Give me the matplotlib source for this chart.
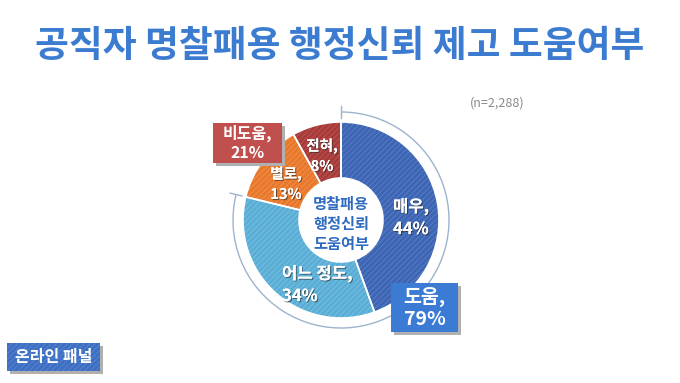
import matplotlib.pyplot as plt
import matplotlib.patches as mpatches
import matplotlib.patheffects as pe
import numpy as np

plt.rcParams['font.family'] = ['Noto Sans CJK KR', 'DejaVu Sans']
plt.rcParams['hatch.linewidth'] = 0.6

# Data
labels = ['매우,\n44%', '어느 정도,\n34%', '별로,\n13%', '전혀,\n8%']
values = [44, 34, 13, 8]
colors = ['#3d65b3', '#5aaed6', '#e8782c', '#a73b3a']
hatch_colors = ['#5a80c6', '#7cc0e2', '#f0924e', '#bb5655']
title = '공직자 명찰패용 행정신뢰 제고 도움여부'
center_text = '명찰패용\n행정신뢰\n도움여부'
n_text = '(n=2,288)'
help_text = '도움,\n79%'
nohelp_text = '비도움,\n21%'
panel_text = '온라인 패널'

H = 383
fig = plt.figure(figsize=(6.8, 3.83), dpi=100)
ax = fig.add_axes([0, 0, 1, 1])

cx, cy, r, r_in = 341, H - 220, 98, 42

# donut: fill + hatch, then white separators
wedges, _ = ax.pie(values, colors=colors, startangle=90, counterclock=False,
                   center=(cx, cy), radius=r, frame=True,
                   wedgeprops=dict(width=r - r_in, linewidth=0))
for w, hc in zip(wedges, hatch_colors):
    w.set_hatch('//////')
    w.set_edgecolor(hc)
    w.set_linewidth(0)
ax.pie(values, colors=['none'] * 4, startangle=90, counterclock=False,
       center=(cx, cy), radius=r, frame=True,
       wedgeprops=dict(width=r - r_in, linewidth=1.2, edgecolor='white', facecolor='none'))
ax.set_xlim(0, 680)
ax.set_ylim(0, H)
ax.set_aspect('equal')
ax.axis('off')

# outer arc around the "help" group
frac = (values[0] + values[1]) / sum(values)
a_end = 90 - frac * 360
ra = 108
ax.add_patch(mpatches.Arc((cx, cy), 2 * ra, 2 * ra, theta1=a_end + 360, theta2=450,
                          color='#9db3cf', lw=1.0))
for a in [90, a_end]:
    t = np.deg2rad(a)
    ax.plot([cx + (ra - 6) * np.cos(t), cx + (ra + 6) * np.cos(t)],
            [cy + (ra - 6) * np.sin(t), cy + (ra + 6) * np.sin(t)],
            color='#9db3cf', lw=1.0)

# wedge labels
shadow = [pe.withSimplePatchShadow(offset=(0.8, -0.8), shadow_rgbFace='#222222', alpha=0.6), pe.Normal()]
label_pos = [(393, 218), (282, 285), (286, 184), (322, 156)]
label_ha = ['left', 'left', 'center', 'center']
label_size = [12, 12, 10.5, 10.5]
for lab, (x, y), ha, fs in zip(labels, label_pos, label_ha, label_size):
    ax.text(x, H - y, lab, color='white', fontsize=fs, fontweight='bold',
            ha=ha, va='center', multialignment=ha, linespacing=1.3, path_effects=shadow)

ax.text(cx, H - 224, center_text, color='#2f6cc0', fontsize=11, fontweight='bold',
        ha='center', va='center', linespacing=1.3)

# title and sample size
ax.text(340, H - 47, title, color='#3b7bd0', fontsize=26.5, fontweight='bold',
        ha='center', va='center')
ax.text(497, H - 103, n_text, color='#8a8a8a', fontsize=9, ha='center', va='center')


def box(x, y, w, h, color, text, fs, hatch=None):
    ax.add_patch(mpatches.Rectangle((x + 3, y - 3), w, h, color='#b0b0b0', lw=0))
    p = mpatches.Rectangle((x, y), w, h, facecolor=color, lw=0)
    if hatch:
        p.set_hatch(hatch)
        p.set_edgecolor('#5a86d0')
    ax.add_patch(p)
    ax.text(x + w / 2, y + h / 2, text, color='white', fontsize=fs, fontweight='bold',
            ha='center', va='center', linespacing=1.2)


box(213, H - 163, 69, 40, '#c0504d', nohelp_text, 11.5)
box(391, H - 332, 67, 49, '#3b7bd4', help_text, 14)
box(7, H - 371, 93, 28, '#3e6fc2', panel_text, 11.5, hatch='//////')

plt.savefig('out.png', dpi=100)
